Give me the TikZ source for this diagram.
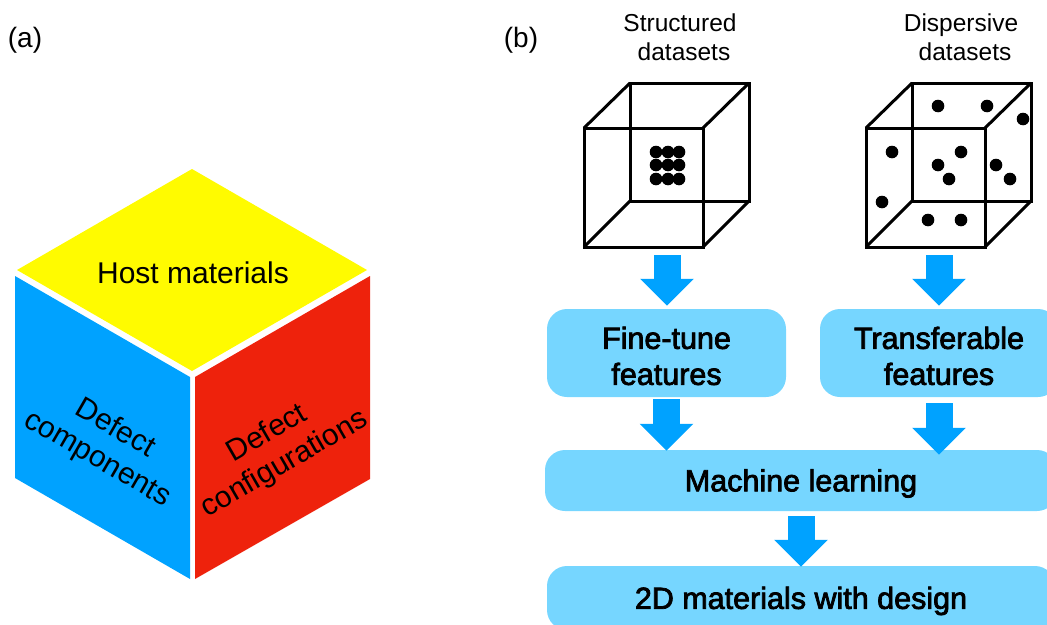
\documentclass[tikz,border=0pt]{standalone}
\usepackage{fontspec}
\setmainfont{Liberation Sans}
\newfontfamily\medfont[FakeBold=2.5]{Liberation Sans}
\usetikzlibrary{arrows.meta}
\definecolor{hostyellow}{HTML}{FFFB00}
\definecolor{defectblue}{HTML}{00A2FF}
\definecolor{defectred}{HTML}{EE220C}
\definecolor{boxblue}{HTML}{76D6FF}
\newcommand{\textdrop}{\rule{0pt}{28pt}}
\tikzset{
    stagebox/.style={fill=boxblue, rounded corners=20pt, align=center, inner sep=0pt,
        font=\medfont\fontsize{30.5}{36}\selectfont},
    flowarrow/.style={draw=defectblue, line width=27pt, -{Triangle[width=52pt,length=27pt]}},
    facelabel/.style={align=center, inner sep=0pt, font=\fontsize{30}{35}\selectfont},
    setlabel/.style={align=center, inner sep=0pt, font=\fontsize{24.5}{29.5}\selectfont},
    panellabel/.style={inner sep=0pt, font=\fontsize{28}{32}\selectfont},
    wire/.style={draw=black, line width=3pt, line join=miter},
    sample/.style={fill=black}
}
\begin{document}
\begin{tikzpicture}[x=1pt,y=-1pt]
    \clip (0,0) rectangle (1047,624);
    % panel (a)
    \node[panellabel] (labela) at (25,40) {(a)};
    \fill[hostyellow] (192,169) -- (367,270) -- (192,371) -- (17,270) -- cycle;
    \fill[defectblue] (15,276) -- (190,377) -- (190,579) -- (15,478) -- cycle;
    \fill[defectred] (195,377) -- (370,276) -- (370,479) -- (195,579) -- cycle;
    \node[facelabel] (host) at (193,273) {Host materials};
    \node[facelabel, rotate=-30] (components) at (106,444) {Defect\\components};
    \node[facelabel, rotate=30] (configurations) at (276,449) {Defect\\configurations};
    % panel (b)
    \node[panellabel] (labelb) at (521,40) {(b)};
    \node[setlabel] (structured) at (680,37) {Structured\\\hspace*{8pt}datasets};
    \node[setlabel] (dispersive) at (961,37) {Dispersive\\\hspace*{8pt}datasets};
    % wire cubes
    \foreach \xf/\xb in {584/630, 866/912}{
        \pgfmathsetmacro{\xfr}{\xf+119}
        \pgfmathsetmacro{\xbr}{\xb+119}
        \draw[wire] (\xf,128) rectangle (\xfr,247);
        \draw[wire] (\xb,83) rectangle (\xbr,201);
        \draw[wire] (\xf,128) -- (\xb,83);
        \draw[wire] (\xfr,128) -- (\xbr,83);
        \draw[wire] (\xf,247) -- (\xb,201);
        \draw[wire] (\xfr,247) -- (\xbr,201);
    }
    \foreach \x in {656,668,679}
        \foreach \y in {152,165,179}
            \fill[sample] (\x,\y) circle (6.3pt);
    \foreach \x/\y in {938/106, 987/106, 1023/119, 892/152, 961/152, 938/165,
                       949/179, 996/165, 1010/179, 882/202, 928/220, 961/220}
        \fill[sample] (\x,\y) circle (6.3pt);
    \coordinate (cubeS) at (667,247);
    \coordinate (cubeD) at (939,247);
    % flow
    \node[stagebox, minimum width=239pt, minimum height=88pt] (fine) at (666.5,353) {\textdrop Fine-tune\\features};
    \node[stagebox, minimum width=238pt, minimum height=88pt] (transfer) at (939,353) {\textdrop Transferable\\features};
    \node[stagebox, minimum width=512pt, minimum height=61pt] (machine) at (801,480.5) {\textdrop Machine learning};
    \node[stagebox, minimum width=508pt, minimum height=64pt] (design) at (801,598) {\textdrop 2D materials with design};
    \draw[flowarrow, shorten <=8pt, shorten >=3pt] (cubeS) -- (cubeS |- fine.north);
    \draw[flowarrow, shorten <=8pt, shorten >=3pt] (cubeD) -- (cubeD |- transfer.north);
    \draw[flowarrow, shorten <=2pt, shorten >=-1pt] (fine.south) -- (fine.south |- machine.north);
    \draw[flowarrow, shorten <=6pt, shorten >=-5pt] (transfer.south) -- (transfer.south |- machine.north);
    \draw[flowarrow, shorten <=5pt, shorten >=-1pt] (machine.south) -- (design.north);
\end{tikzpicture}
\end{document}
